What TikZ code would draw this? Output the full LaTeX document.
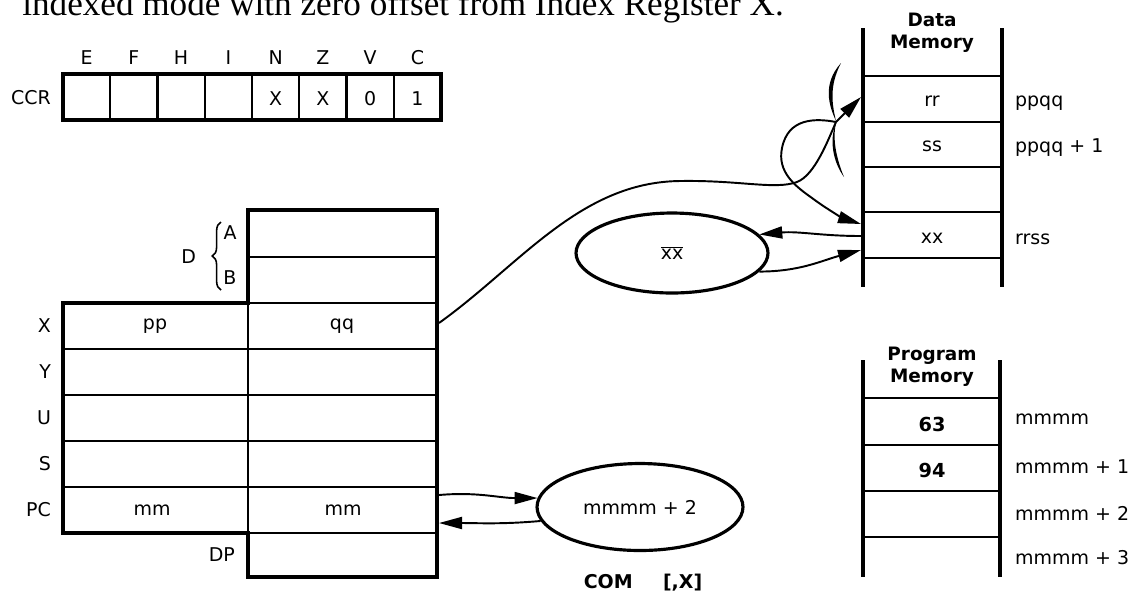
\documentclass[tikz,border=0pt]{standalone}
\usepackage{fontspec}
\setmainfont{Liberation Serif}
\setsansfont{DejaVu Sans}
\usetikzlibrary{arrows.meta}
\usetikzlibrary{shapes.geometric}
\usetikzlibrary{decorations.pathreplacing}
\usetikzlibrary{positioning}

\tikzset{
  outer/.style={line width=2.6pt},
  inner/.style={line width=1.2pt},
  lbl/.style={font=\sffamily\fontsize{10.8}{13}\selectfont, inner sep=1pt},
  memhead/.style={font=\sffamily\bfseries\fontsize{10.5}{12.5}\selectfont, align=center},
  link/.style={line width=1.1pt, -{Triangle[length=4.6mm,width=2.4mm]}},
  oval/.style={draw, ellipse, line width=1.8pt, inner sep=0pt},
}

\begin{document}
\begin{tikzpicture}[x=0.02cm, y=-0.02cm]
  \useasboundingbox (0,0) rectangle (1141,600);
  \def\cw{47.25} % width of a CCR cell
  \def\rh{46} % height of a register row

  % caption line, cut off at the top
  \node[anchor=base west, inner sep=0pt, font=\fontsize{20}{22}\selectfont] (caption) at (22,15)
    {indexed mode with zero offset from Index Register X.};

  % condition code register
  \foreach \i in {1,...,7}
    \draw[inner] ({63+\i*\cw},74) -- ({63+\i*\cw},120);
  \draw[outer] (63,74) rectangle (441,120);
  \node[lbl, anchor=east] (ccr) at (53,98) {CCR};
  \foreach \f/\v [count=\i] in {E/,F/,H/,I/,N/X,Z/X,V/0,C/1} {
    \node[lbl] (flag\f) at ({63+(\i-0.5)*\cw},58) {\f};
    \node[lbl] (bit\f) at ({63+(\i-0.5)*\cw},99) {\v};
  }

  % registers
  \draw[inner] (248,257) -- (437,257);
  \foreach \j in {0,...,5}
    \draw[inner] (63,{303+\j*\rh}) -- (437,{303+\j*\rh});
  \draw[inner] (248,303) -- (248,533);
  \draw[outer] (248,210) -- (437,210) -- (437,577) -- (248,577) -- (248,533)
    -- (63,533) -- (63,303) -- (248,303) -- cycle;
  \foreach \r [count=\j] in {X,Y,U,S,PC}
    \node[lbl, anchor=east] (reg\r) at (53,{280+\j*\rh}) {\r};
  \node[lbl, anchor=east] (regDP) at (237,555) {DP};
  \node[lbl] (regA) at (230,233) {A};
  \node[lbl] (regB) at (230,278) {B};
  \node[lbl, anchor=east] (regD) at (198,257) {D};
  \draw[line width=0.9pt, decorate, decoration={brace, amplitude=5pt}] (221,290) -- (221,222);
  \node[lbl] (xhi) at (155,326) {pp};
  \node[lbl] (xlo) at (342,326) {qq};
  \node[lbl] (pchi) at (152,510) {mm};
  \node[lbl] (pclo) at (343,510) {mm};
  \coordinate (xout) at (439,323);
  \coordinate (pcin) at (439,495);
  \coordinate (pcret) at (439,523);

  % data memory
  \foreach \y in {76,122,167,212,258}
    \draw[inner] (863,\y) -- (1002,\y);
  \draw[outer] (863,28) -- (863,287);
  \draw[outer] (1002,28) -- (1002,287);
  \node[memhead] (dmem) at (932,33) {Data\\Memory};
  \node[lbl] (cellrr) at (932,101) {rr};
  \node[lbl] (cellss) at (932,146) {ss};
  \node[lbl] (cellxx) at (932,238) {xx};
  \node[lbl, anchor=west] (adrrr) at (1013,103) {ppqq};
  \node[lbl, anchor=west] (adrss) at (1013,148) {ppqq + 1};
  \node[lbl, anchor=west] (adrxx) at (1013,239) {rrss};
  \coordinate (pqin) at (861,97);
  \coordinate (pair) at (836,122);
  \coordinate (xxtop) at (861,224);
  \coordinate (xxout) at (861,236);
  \coordinate (xxin) at (861,250);

  % program memory
  \foreach \y in {398,445,491,537}
    \draw[inner] (863,\y) -- (1000,\y);
  \draw[outer] (863,360) -- (863,577);
  \draw[outer] (1000,360) -- (1000,577);
  \node[memhead] (pmem) at (932,367) {Program\\Memory};
  \node[lbl, font=\sffamily\bfseries\fontsize{11}{13}\selectfont] (op63) at (932,424) {63};
  \node[lbl, font=\sffamily\bfseries\fontsize{11}{13}\selectfont] (op94) at (932,470) {94};
  \foreach \k/\y in {0/419,1/467,2/513,3/558}
    \node[lbl, anchor=west] (adr\k) at (1013,\y) {mmmm\ifnum\k>0{} + \k\fi};

  % effective address and operand
  \node[oval, lbl, minimum width=3.84cm, minimum height=1.6cm] (xxbar) at (672,253) {$\overline{\mbox{xx}}$};
  \node[oval, lbl, minimum width=4.12cm, minimum height=1.74cm] (mmpc) at (640,507) {mmmm + 2};
  \node[font=\sffamily\bfseries\fontsize{10.8}{13}\selectfont] (mnem) at (643,583) {COM\hspace{1.6em}[,X]};

  % X -> ppqq, then rrss -> xx
  \draw[link] (xout) .. controls (520,265) and (580,182) .. (680,181)
    .. controls (740,180) and (775,190) .. (797,182)
    .. controls (815,175) and (828,140) .. (pair) -- (pqin);
  \draw[link] (pair) .. controls (815,118) and (788,118) .. (782,148)
    .. controls (777,172) and (795,186) .. (812,198)
    .. controls (828,210) and (845,219) .. (xxtop);
  \fill (841,63) .. controls (822,84) and (829,106) .. (836,121)
    .. controls (832,104) and (829,86) .. (841,63) -- cycle;
  \fill (836,123) .. controls (829,140) and (833,162) .. (844,177)
    .. controls (837,160) and (832,140) .. (836,123) -- cycle;
  \draw[link] (xxout) to[out=180, in=5] (xxbar.12);
  \draw[link] (xxbar.-12) to[out=0, in=195] (xxin);

  % PC <-> mmmm + 2
  \draw[link] (pcin) to[out=5, in=180] (mmpc.175);
  \draw[link] (mmpc.188) to[out=185, in=0] (pcret);
\end{tikzpicture}
\end{document}
